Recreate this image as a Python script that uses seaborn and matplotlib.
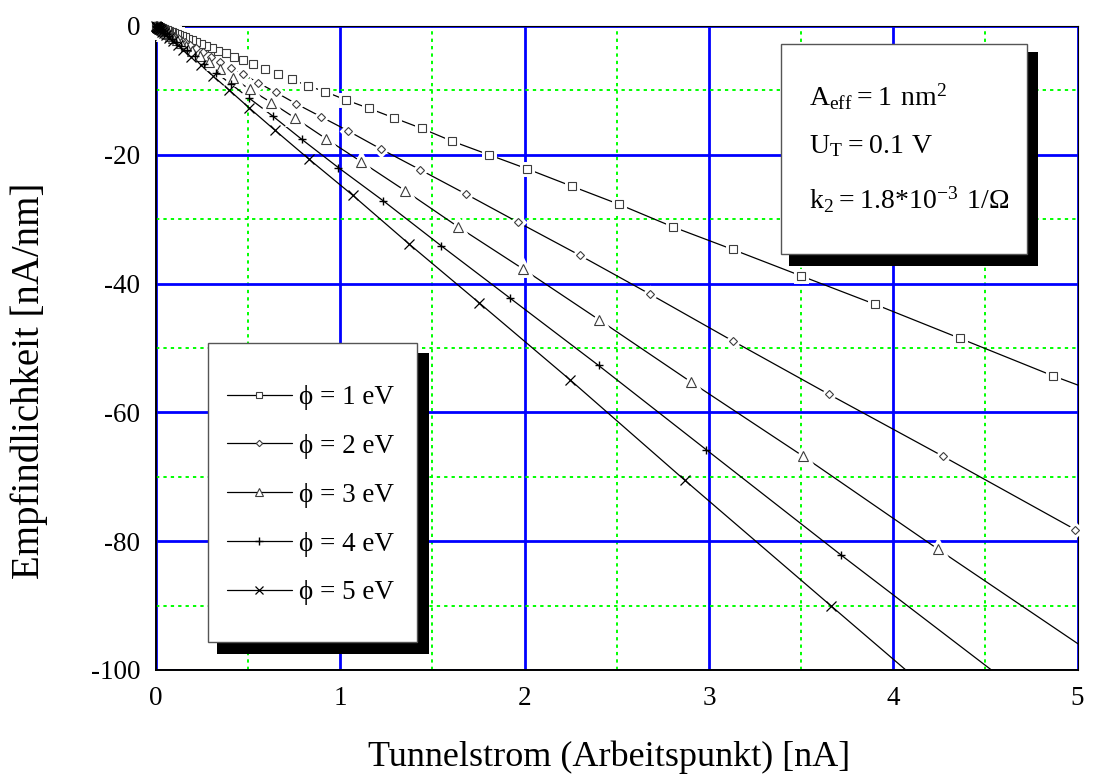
import matplotlib
matplotlib.use("Agg")
import matplotlib.pyplot as plt
from matplotlib.lines import Line2D
from matplotlib.patches import Rectangle
from matplotlib.ticker import MultipleLocator
import pandas as pd
import seaborn as sns

# Tunnelling current (operating point) in nA and sensitivity dI/ds in nA/nm,
# one pair of lists per barrier height phi.
I_phi1 = [5.43, 4.865, 4.362, 3.900, 3.500, 3.129, 2.805, 2.513, 2.258, 2.015, 1.807,
          1.608, 1.441, 1.294, 1.157, 1.032, 0.918, 0.824, 0.738, 0.660, 0.590, 0.528,
          0.473, 0.423, 0.379, 0.339, 0.304, 0.272, 0.243, 0.218, 0.195, 0.174, 0.156,
          0.140, 0.125, 0.112, 0.100, 0.089, 0.080, 0.072, 0.064, 0.057, 0.051, 0.046,
          0.041, 0.037, 0.033, 0.029, 0.026, 0.023, 0.021, 0.019, 0.017, 0.015, 0.013,
          0.012, 0.011, 0.010, 0.009, 0.008, 0.007, 0.006, 0.005, 0.004, 0.003, 0.002]
S_phi1 = [-60.3, -54.3, -48.5, -43.2, -38.8, -34.7, -31.2, -27.7, -24.9, -22.2, -20.0,
          -17.9, -15.9, -14.3, -12.8, -11.5, -10.2, -9.3, -8.3, -7.4, -6.6, -5.95,
          -5.33, -4.76, -4.27, -3.82, -3.42, -3.06, -2.74, -2.45, -2.20, -1.96, -1.76,
          -1.58, -1.41, -1.26, -1.13, -1.00, -0.90, -0.81, -0.72, -0.64, -0.58, -0.52,
          -0.46, -0.42, -0.37, -0.33, -0.29, -0.26, -0.24, -0.21, -0.19, -0.17, -0.15,
          -0.14, -0.12, -0.11, -0.10, -0.09, -0.08, -0.07, -0.06, -0.05, -0.03, -0.02]

I_phi2 = [4.988, 4.269, 3.652, 3.129, 2.678, 2.299, 1.966, 1.682, 1.432, 1.220, 1.043,
          0.896, 0.762, 0.650, 0.553, 0.473, 0.406, 0.348, 0.298, 0.255, 0.218, 0.187,
          0.160, 0.137, 0.117, 0.100, 0.086, 0.073, 0.063, 0.054, 0.046, 0.039, 0.034,
          0.029, 0.025, 0.021, 0.018, 0.015, 0.013, 0.011, 0.0095, 0.008, 0.007, 0.006,
          0.005, 0.004, 0.003, 0.002]
S_phi2 = [-78.2, -66.8, -57.2, -48.9, -41.6, -35.6, -30.5, -26.1, -22.3, -19.1, -16.3,
          -14.1, -12.1, -10.3, -8.8, -7.5, -6.45, -5.53, -4.74, -4.06, -3.47, -2.98,
          -2.55, -2.18, -1.87, -1.60, -1.37, -1.17, -1.00, -0.86, -0.74, -0.63, -0.54,
          -0.46, -0.40, -0.34, -0.29, -0.24, -0.21, -0.18, -0.15, -0.13, -0.11, -0.10,
          -0.08, -0.06, -0.05, -0.03]

I_phi3 = [5.12, 4.241, 3.511, 2.904, 2.403, 1.990, 1.640, 1.353, 1.115, 0.922, 0.755,
          0.626, 0.509, 0.420, 0.348, 0.288, 0.238, 0.197, 0.163, 0.135, 0.112, 0.093,
          0.077, 0.064, 0.053, 0.044, 0.036, 0.030, 0.025, 0.020, 0.017, 0.014, 0.012,
          0.010, 0.008, 0.007, 0.006, 0.005, 0.004, 0.003, 0.002]
S_phi3 = [-98.2, -81.2, -66.8, -55.3, -45.6, -37.7, -31.2, -25.6, -21.1, -17.5, -14.3,
          -11.9, -9.84, -8.13, -6.75, -5.60, -4.63, -3.83, -3.17, -2.62, -2.17, -1.80,
          -1.49, -1.23, -1.02, -0.85, -0.70, -0.58, -0.48, -0.40, -0.33, -0.27, -0.22,
          -0.19, -0.16, -0.13, -0.11, -0.09, -0.08, -0.06, -0.04]

I_phi4 = [4.620, 3.715, 2.986, 2.401, 1.923, 1.546, 1.231, 0.990, 0.791, 0.634, 0.505,
          0.406, 0.326, 0.262, 0.211, 0.170, 0.136, 0.110, 0.088, 0.071, 0.057, 0.046,
          0.037, 0.030, 0.024, 0.019, 0.015, 0.012, 0.010, 0.008, 0.0065, 0.005, 0.004,
          0.003, 0.002]
S_phi4 = [-101.9, -82.1, -65.8, -52.7, -42.3, -34.1, -27.1, -22.0, -17.6, -14.0, -11.2,
          -9.0, -7.25, -5.83, -4.69, -3.77, -3.03, -2.44, -1.96, -1.58, -1.27, -1.02,
          -0.82, -0.66, -0.53, -0.43, -0.34, -0.28, -0.22, -0.18, -0.14, -0.11, -0.09,
          -0.07, -0.04]

I_phi5 = [4.680, 3.665, 2.868, 2.249, 1.754, 1.371, 1.068, 0.831, 0.646, 0.505, 0.395,
          0.309, 0.242, 0.190, 0.149, 0.117, 0.091, 0.072, 0.056, 0.044, 0.034, 0.027,
          0.021, 0.016, 0.013, 0.010, 0.008, 0.006, 0.005, 0.004, 0.003, 0.002]
S_phi5 = [-115.0, -90.1, -70.5, -55.0, -43.0, -33.8, -26.3, -20.7, -16.2, -12.7, -9.9,
          -7.75, -6.07, -4.75, -3.72, -2.92, -2.28, -1.79, -1.40, -1.10, -0.86, -0.67,
          -0.53, -0.41, -0.32, -0.25, -0.20, -0.15, -0.12, -0.10, -0.08, -0.05]

legend_labels = ["\u03d5 = 1 eV", "\u03d5 = 2 eV", "\u03d5 = 3 eV", "\u03d5 = 4 eV", "\u03d5 = 5 eV"]
x_ticks = [0, 1, 2, 3, 4, 5]
y_ticks = [0, -20, -40, -60, -80, -100]
info_lines = [r"$\mathregular{A_{eff} = 1\ nm^{2}}$",
              r"$\mathregular{U_{T} = 0.1\ V}$",
              r"$\mathregular{k_{2} = 1.8{*}10^{-3}\ 1/Ω}$"]

sns.set_theme(style="white")
plt.rcParams.update({
    "axes.unicode_minus": False,
    "mathtext.fontset": "custom",
    "mathtext.rm": "Liberation Serif",
    "text.color": "black",
    "axes.labelcolor": "black",
    "xtick.color": "black",
    "ytick.color": "black",
    "xtick.labelcolor": "black",
    "ytick.labelcolor": "black",
})
plt.rcParams["font.family"] = ["Liberation Serif", "DejaVu Serif"]

fig = plt.figure(figsize=(10.93, 7.76), dpi=100)
ax = fig.add_axes([0.14273, 0.13660, 0.84309, 0.82990])
ax.set_facecolor("white")

XMAX, YMIN = 5.0, -100.0

# marker, size (pt), face, edge colour, edge width, white halo width
styles = [
    ("s", 5.9, "white", "#3c3c3c", 0.8, 5.0),
    ("D", 3.8, "white", "#3c3c3c", 0.8, 5.0),
    ("^", 7.0, "white", "#3c3c3c", 0.8, 5.0),
    ("+", 6.3, "none", "black", 1.0, 0.0),
    ("x", 7.6, "none", "black", 0.9, 0.0),
]
data = [(I_phi1, S_phi1), (I_phi2, S_phi2), (I_phi3, S_phi3), (I_phi4, S_phi4), (I_phi5, S_phi5)]

handles = []
for (cur, sens), (mk, ms, fc, ec, mew, halo) in zip(data, styles):
    df = pd.DataFrame({"I": cur, "S": sens})
    sns.lineplot(data=df, x="I", y="S", sort=False, estimator=None,
                 color="black", lw=0.9, ax=ax, zorder=3)
    inside = df[(df["I"] <= XMAX) & (df["S"] >= YMIN)]
    if halo > 0:
        ax.plot(inside["I"], inside["S"], ls="none", marker=mk, ms=ms,
                mfc="white", mec="white", mew=halo, zorder=3.5, clip_on=False)
    ax.plot(inside["I"], inside["S"], ls="none", marker=mk, ms=ms,
            mfc=fc, mec=ec, mew=mew, zorder=4, clip_on=False)
    handles.append(Line2D([], [], color="black", lw=0.9, marker=mk, ms=ms * 0.85,
                          mfc=fc, mec=ec, mew=mew))

ax.set_xlim(0, XMAX)
ax.set_ylim(YMIN, 0)
ax.set_xticks(x_ticks)
ax.set_yticks(y_ticks)
ax.xaxis.set_minor_locator(MultipleLocator(0.5))
ax.yaxis.set_minor_locator(MultipleLocator(10))

ax.set_axisbelow(True)
ax.grid(which="major", color="#0000ff", lw=2.0, ls="-")
ax.grid(which="minor", color="#00ff00", lw=1.4, ls=(0, (1.7, 2.1)))

for side in ("left", "bottom"):
    ax.spines[side].set_linewidth(1.4)
    ax.spines[side].set_color("black")
for side in ("top", "right"):
    ax.spines[side].set_linewidth(0.8)
    ax.spines[side].set_color("black")
    ax.spines[side].set_visible(True)

ax.tick_params(which="both", direction="in", top=False, right=False,
               width=1.1, color="black", labelcolor="black", labelsize=19.5, pad=11.5)
ax.tick_params(axis="x", which="major", length=8)
ax.tick_params(axis="x", which="minor", length=4.5)
ax.tick_params(axis="y", which="both", length=5)

ax.set_xlabel("Tunnelstrom (Arbeitspunkt) [nA]", fontsize=26, va="baseline", color="black")
ax.xaxis.set_label_coords(0.4916, -0.149)
ax.set_ylabel("Empfindlichkeit [nA/nm]", fontsize=28, va="baseline", ha="center",
              rotation_mode="anchor", color="black")
ax.yaxis.set_label_coords(-0.1270, 0.4495)


def boxed(x0, y0, x1, y1, sx0, sy0, sx1, sy1, z):
    ax.add_patch(Rectangle((sx0, sy0), sx1 - sx0, sy1 - sy0, transform=ax.transAxes,
                           facecolor="black", edgecolor="none", zorder=z, clip_on=False))
    ax.add_patch(Rectangle((x0, y0), x1 - x0, y1 - y0, transform=ax.transAxes,
                           facecolor="white", edgecolor="#555555", lw=1.0,
                           zorder=z + 0.1, clip_on=False))


# parameter box, upper right
boxed(0.6779, 0.6460, 0.9449, 0.9716, 0.6869, 0.6278, 0.9571, 0.9596, 8)
for txt, yb in zip(info_lines, [0.8758, 0.8028, 0.7158]):
    ax.text(0.7086, yb, txt, transform=ax.transAxes, fontsize=20, color="black",
            ha="left", va="baseline", zorder=9)

# legend box, lower left
boxed(0.0564, 0.0435, 0.2832, 0.5078, 0.0662, 0.0248, 0.2963, 0.4922, 8)
leg = ax.legend(handles, legend_labels, loc="upper left",
                bbox_to_anchor=(0.0770, 0.4425), frameon=False, borderpad=0,
                borderaxespad=0, handlelength=2.4, handletextpad=0.26,
                labelspacing=0.88, fontsize=19.5, labelcolor="black")
leg.set_zorder(10)

fig.savefig("out.png", dpi=100, facecolor="white")
